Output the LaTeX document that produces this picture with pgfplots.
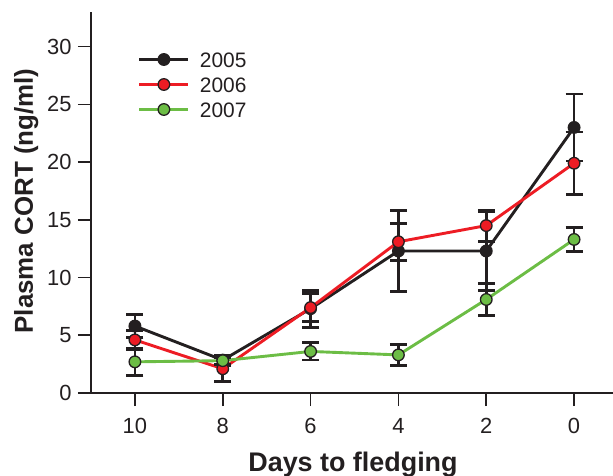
\documentclass[border=0pt]{standalone}
\usepackage{pgfplots}
\pgfplotsset{compat=1.18}
\usepackage{fontspec}
\setmainfont{Liberation Sans}
\definecolor{cblack}{HTML}{231F20}
\definecolor{cred}{HTML}{ED1C24}
\definecolor{cgreen}{HTML}{6CBD45}
\pgfplotstableread{
x y e
10 5.8 1.0
8 2.85 0.45
6 7.3 1.6
4 12.3 3.5
2 12.3 3.4
0 23.0 2.9
}\dataA
\pgfplotstableread{
x y e
10 4.6 0.8
8 2.1 1.1
6 7.4 1.2
4 13.1 1.6
2 14.5 1.35
0 19.9 2.7
}\dataB
\pgfplotstableread{
x y e
10 2.7 1.15
8 2.8 0.3
6 3.6 0.75
4 3.3 0.9
2 8.1 1.4
0 13.3 1.05
}\dataC
\begin{document}
\begin{tikzpicture}
\path[use as bounding box] (-91bp,-83bp) rectangle (522bp,393bp);
\begin{axis}[
  at={(0,0)}, anchor=south west,
  scale only axis, width=522bp, height=381bp,
  xmin=-0.886, xmax=11, x dir=reverse, ymin=0, ymax=33,
  axis x line*=bottom, axis y line*=left,
  axis line style={-, line width=1.6bp, cblack},
  xtick={0,2,...,10}, ytick={0,5,...,30},
  tick align=outside, major tick length=13bp,
  tick style={line width=1.6bp, cblack},
  tick label style={font=\fontsize{22}{26}\selectfont, text=cblack},
  xticklabel style={yshift=-9bp},
  yticklabel style={xshift=-3bp},
  /pgf/number format/assume math mode=true,
  clip=false,
  legend image code/.code={\draw[#1, mark repeat=2, mark phase=2] plot coordinates {(0bp,0bp) (24.5bp,0bp) (49bp,0bp)};},
  legend style={draw=none, fill=none, inner sep=0pt, outer sep=0pt,
    at={(axis description cs:0.090,0.895)}, anchor=north west,
    font=\fontsize{21}{25}\selectfont, text=cblack,
    nodes={inner sep=0pt, text height=15bp, text depth=0bp},
    row sep=10bp, column sep=10bp},
  legend cell align=left,
  every axis plot/.append style={line width=2.9bp},
  error bars/error bar style={line width=2.8bp, cblack, solid},
  error bars/error mark options={cblack, line width=2.8bp, mark size=8.5bp, rotate=90},
]
\addplot[cblack, mark=*, mark size=5.8bp, mark options={fill=cblack, draw=cblack, line width=1.3bp},
  error bars/.cd, y dir=both, y explicit]
  table[x=x, y=y, y error=e] {\dataA};
\addlegendentry{2005}
\addplot[cred, mark=*, mark size=5.8bp, mark options={fill=cred, draw=cblack, line width=1.3bp},
  error bars/.cd, y dir=both, y explicit]
  table[x=x, y=y, y error=e] {\dataB};
\addlegendentry{2006}
\addplot[cgreen, mark=*, mark size=5.8bp, mark options={fill=cgreen, draw=cblack, line width=1.3bp},
  error bars/.cd, y dir=both, y explicit]
  table[x=x, y=y, y error=e] {\dataC};
\addlegendentry{2007}
\end{axis}
\node[rotate=90, anchor=base, font=\fontsize{26}{30}\selectfont\bfseries, text=cblack] at (-58bp,192bp) {Plasma CORT (ng/ml)};
\node[anchor=base, font=\fontsize{27}{31}\selectfont\bfseries, text=cblack] at (262bp,-78.7bp) {Days to fledging};
\end{tikzpicture}
\end{document}
